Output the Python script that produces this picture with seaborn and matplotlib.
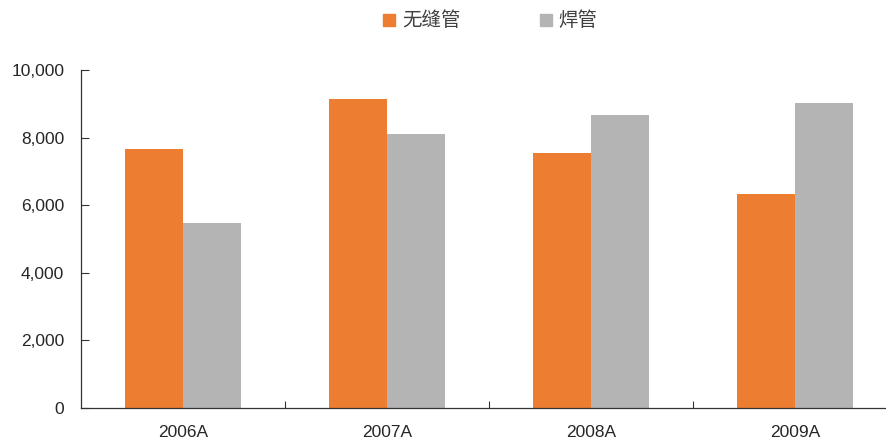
import pandas as pd
import numpy as np
import seaborn as sns
import matplotlib.pyplot as plt
from matplotlib.lines import Line2D
from matplotlib.ticker import FuncFormatter

years = ["2006A", "2007A", "2008A", "2009A"]
seamless = [7660, 9140, 7540, 6330]
welded = [5480, 8110, 8670, 9020]
series = ["无缝管", "焊管"]
colors = ["#ED7D31", "#B4B4B4"]

df = pd.DataFrame({
    "year": years * 2,
    "value": seamless + welded,
    "series": [series[0]] * 4 + [series[1]] * 4,
})

sns.set_style("white")
plt.rcParams['font.family'] = ['Liberation Sans', 'Noto Sans CJK SC', 'DejaVu Sans']

fig = plt.figure(figsize=(8.87, 4.43), dpi=100)
# axis runs past the right edge of the figure, like the original
ax = fig.add_axes([81/887, 35/443, 816/887, 338/443])

sns.barplot(data=df, x="year", y="value", hue="series", palette=colors,
            width=0.57, gap=0, saturation=1, linewidth=0, ax=ax, legend=False)

ax.set_ylim(0, 10000)
ax.set_xlim(-0.5, 3.5)
ax.set_yticks(np.arange(0, 10001, 2000))
ax.yaxis.set_major_formatter(FuncFormatter(lambda v, p: f"{int(v):,}"))
ax.set_xlabel("")
ax.set_ylabel("")
for s in ["top", "right"]:
    ax.spines[s].set_visible(False)
for s in ["left", "bottom"]:
    ax.spines[s].set_color("#333333")
    ax.spines[s].set_linewidth(0.9)

ax.tick_params(axis="y", direction="in", length=6, width=0.8, color="#333333",
               labelsize=12.5, pad=12, left=True)
ax.tick_params(axis="x", which="major", length=0, labelsize=12.5, pad=12)
ax.set_xticks([0.5, 1.5, 2.5], minor=True)
ax.tick_params(axis="x", which="minor", direction="in", length=5, width=0.8,
               color="#333333", bottom=True)

handles = [Line2D([], [], marker="s", linestyle="", markersize=8,
                  markerfacecolor=c, markeredgecolor=c) for c in colors]
leg = fig.legend(handles, series, loc="center", bbox_to_anchor=(0.553, 0.953),
                 ncol=2, frameon=False, columnspacing=4.1,
                 handletextpad=0.35, handlelength=0.6,
                 prop={"family": ["Noto Sans CJK SC"], "size": 14})
for t in leg.get_texts():
    t.set_color("#404040")

fig.savefig("out.png", dpi=100)
